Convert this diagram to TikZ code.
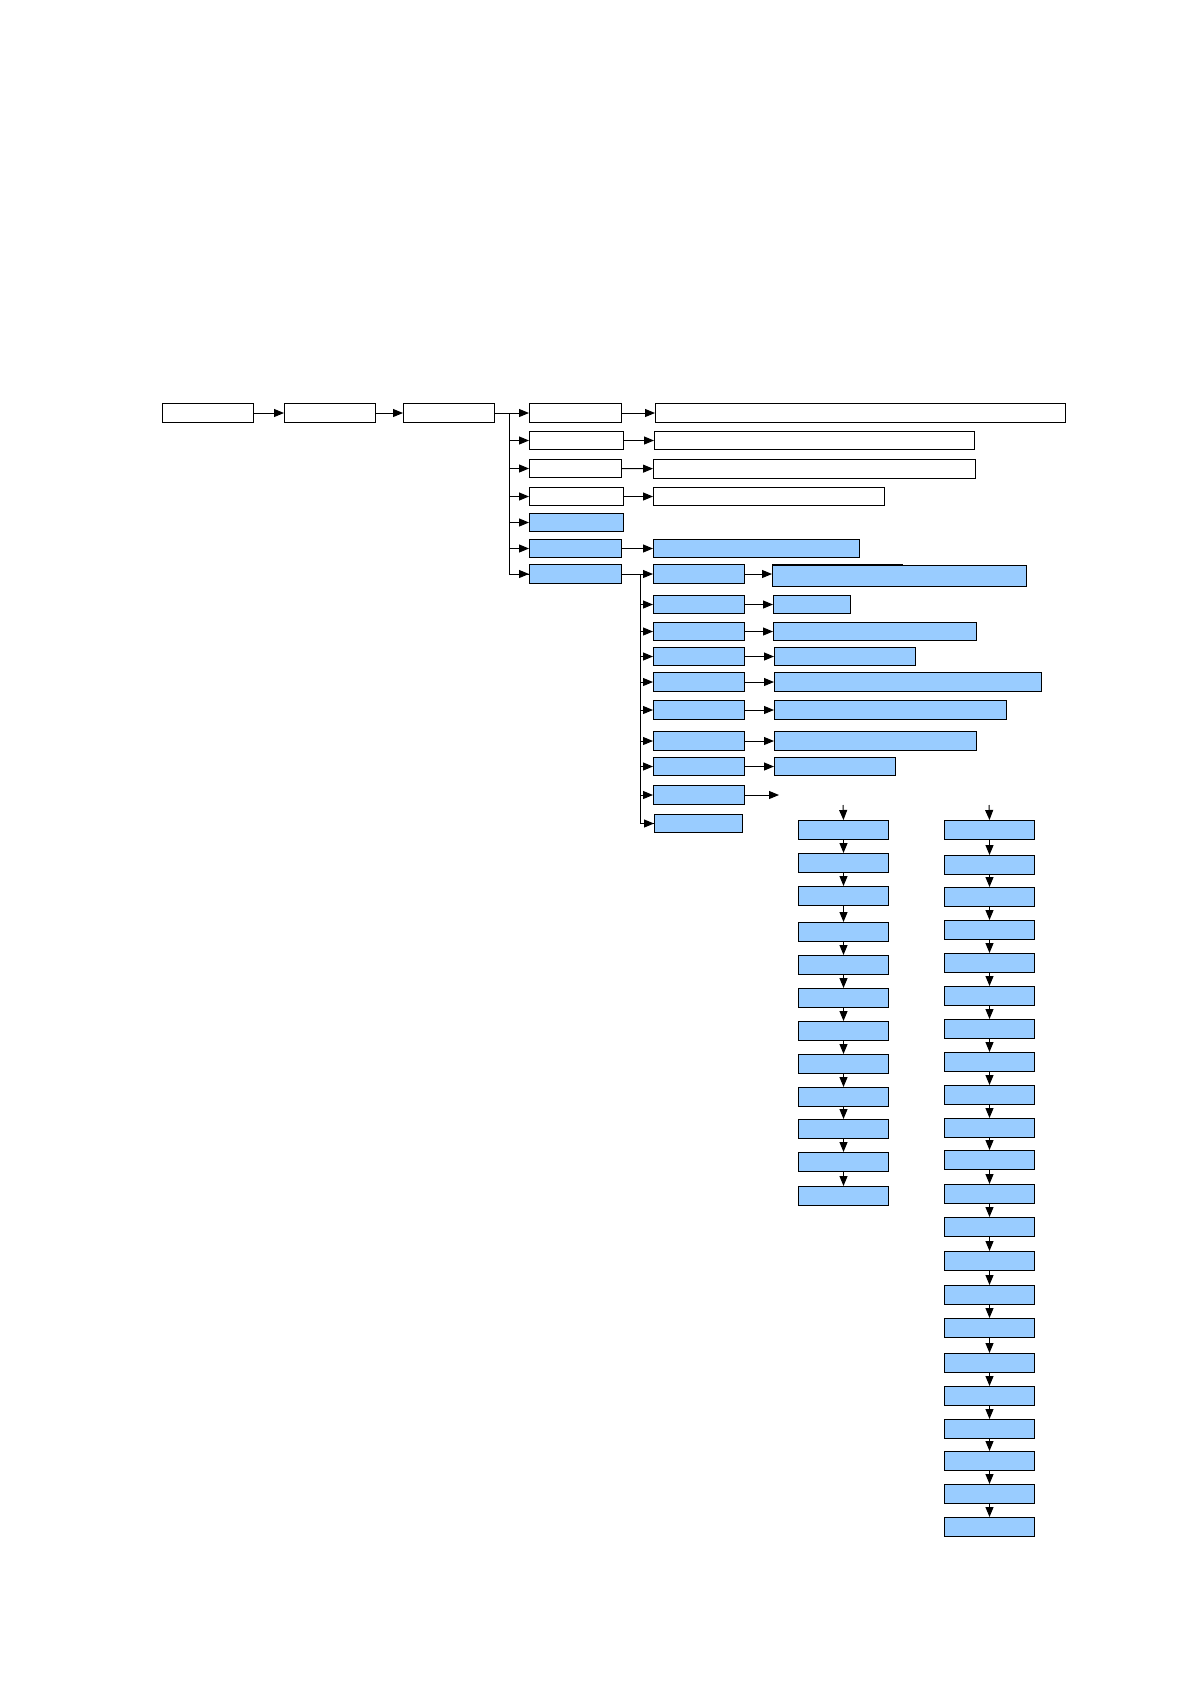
\documentclass[tikz,border=0pt]{standalone}
\usetikzlibrary{arrows.meta}
\definecolor{boxblue}{RGB}{153,204,255}
\tikzset{
  box/.style={draw, rectangle, inner sep=0pt, anchor=north west, line width=1pt, minimum height=19},
  bluebox/.style={box, fill=boxblue},
  link/.style={line width=1pt, -{Triangle[length=10pt,width=8pt]}}
}
\begin{document}
\begin{tikzpicture}[x=1pt,y=-1pt]
  \useasboundingbox (0,0) rectangle (1190,1684);
  % top row
  \node[box, minimum width=91] (b1) at (162,403) {};
  \node[box, minimum width=91] (b2) at (284,403) {};
  \node[box, minimum width=91] (b3) at (403,403) {};
  \draw[link] (b1) -- (b2);
  \draw[link] (b2) -- (b3);

  % first branch
  \node[box, minimum width=92] (c1) at (529,403) {};
  \node[box, minimum width=94, minimum height=18] (c2) at (529,431) {};
  \node[box, minimum width=92, minimum height=18] (c3) at (529,459) {};
  \node[box, minimum width=94, minimum height=18] (c4) at (529,487) {};
  \node[bluebox, minimum width=94, minimum height=18] (c5) at (529,513) {};
  \node[bluebox, minimum width=92, minimum height=18] (c6) at (529,539) {};
  \node[bluebox, minimum width=92] (c7) at (529,564) {};
  \coordinate (split1) at (509,413);
  \draw[line width=1pt] (b3) -- (split1) |- (c7);
  \foreach \n in {1,...,7}
  {
  \draw[link] (split1 |- c\n) -- (c\n);
  }

  \node[box, minimum width=410] (d1) at (655,403) {};
  \node[box, minimum width=320, minimum height=18] (d2) at (654,431) {};
  \node[box, minimum width=322] (d3) at (653,459) {};
  \node[box, minimum width=231, minimum height=18] (d4) at (653,487) {};
  \node[bluebox, minimum width=206, minimum height=18] (d6) at (653,539) {};
  \draw[link] (c1) -- (d1);
  \draw[link] (c2) -- (d2);
  \draw[link] (c3) -- (d3);
  \draw[link] (c4) -- (d4);
  \draw[link] (c6) -- (d6);

  % second branch
  \node[bluebox, minimum width=91] (s1) at (653,564) {};
  \node[bluebox, minimum width=91, minimum height=18] (s2) at (653,595) {};
  \node[bluebox, minimum width=91, minimum height=18] (s3) at (653,622) {};
  \node[bluebox, minimum width=91, minimum height=18] (s4) at (653,647) {};
  \node[bluebox, minimum width=91] (s5) at (653,672) {};
  \node[bluebox, minimum width=91] (s6) at (653,700) {};
  \node[bluebox, minimum width=91] (s7) at (653,731) {};
  \node[bluebox, minimum width=91, minimum height=18] (s8) at (653,757) {};
  \node[bluebox, minimum width=91] (s9) at (653,785) {};
  \node[bluebox, minimum width=88, minimum height=18] (s10) at (654,814) {};
  \coordinate (split2) at (640,574);
  \draw[line width=1pt] (c7) -- (split2) |- (s10);
  \foreach \n in {1,...,10}
  {
  \draw[link] (split2 |- s\n) -- (s\n);
  }

  \node[bluebox, minimum width=254, minimum height=21] (t1) at (772,565) {};
  \draw[line width=2pt] (t1.north west) -- ++(131,0);
  \node[bluebox, minimum width=77, minimum height=18] (t2) at (773,595) {};
  \node[bluebox, minimum width=203, minimum height=18] (t3) at (773,622) {};
  \node[bluebox, minimum width=141, minimum height=18] (t4) at (774,647) {};
  \node[bluebox, minimum width=267] (t5) at (774,672) {};
  \node[bluebox, minimum width=232] (t6) at (774,700) {};
  \node[bluebox, minimum width=202] (t7) at (774,731) {};
  \node[bluebox, minimum width=121, minimum height=18] (t8) at (774,757) {};
  \foreach \n in {1,...,8}
  {
  \draw[link] (s\n.east) -- (s\n.east -| t\n.west);
  }
  \coordinate (s9end) at (779,795);
  \draw[link] (s9.east) -- (s9.east -| s9end);

  % left chain
  \foreach \y [count=\i] in {820,853,886,922,955,988,1021,1054,1087,1119,1152,1186}
  {
  \node[bluebox, minimum width=90] (l\i) at (798,\y) {};
  }
  \coordinate (lin) at (843,805);
  \draw[link] (lin) -- (l1.north);
  \foreach \i [evaluate=\i as \j using int(\i+1)] in {1,...,11}
  {
  \draw[link] (l\i.south) -- (l\j.north);
  }

  % right chain
  \foreach \y [count=\i] in {820,855,887,920,953,986,1019,1052,1085,1118,1150,1184,1217,1251,1285,1318,1353,1386,1419,1451,1484,1517}
  {
  \node[bluebox, minimum width=90] (r\i) at (944,\y) {};
  }
  \coordinate (rin) at (989,805);
  \draw[link] (rin) -- (r1.north);
  \foreach \i [evaluate=\i as \j using int(\i+1)] in {1,...,21}
  {
  \draw[link] (r\i.south) -- (r\j.north);
  }
\end{tikzpicture}
\end{document}
